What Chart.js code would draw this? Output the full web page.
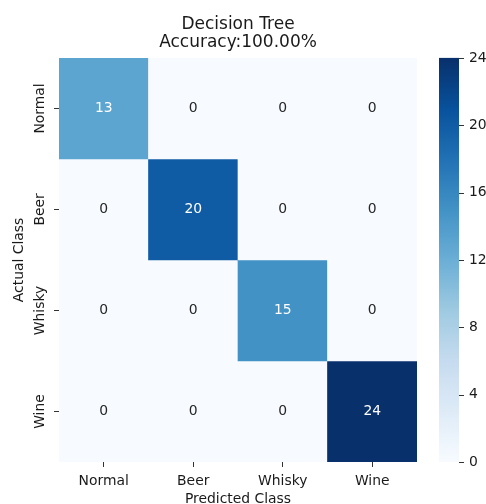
<!DOCTYPE html>
<html>
<head>
<meta charset="utf-8">
<script src="https://cdn.jsdelivr.net/npm/chart.js@4.4.0/dist/chart.umd.min.js"></script>
<style>
  html, body { margin: 0; padding: 0; background: #fff; }
  #wrap { width: 486px; height: 504px; }
</style>
</head>
<body>
<div id="wrap"><canvas id="chartMatrix" width="486" height="504"></canvas></div>
<script>
// confusion matrix, one array per actual class
const predictedLabels = ['Normal', 'Beer', 'Whisky', 'Wine'];
const actualLabels = ['Normal', 'Beer', 'Whisky', 'Wine'];
const rowNormal = [13, 0, 0, 0];
const rowBeer = [0, 20, 0, 0];
const rowWhisky = [0, 0, 15, 0];
const rowWine = [0, 0, 0, 24];
const colorbarTicks = [0, 4, 8, 12, 16, 20, 24];
const chartTitle = ['Decision Tree', 'Accuracy:100.00%'];

const matrix = [rowNormal, rowBeer, rowWhisky, rowWine];
const vmin = 0;
const vmax = 24;

// "Blues" colour map
const bluesStops = [
    [247, 251, 255], [222, 235, 247], [198, 219, 239], [158, 202, 225], [107, 174, 214],
    [66, 146, 198], [33, 113, 181], [8, 81, 156], [8, 48, 107]
];

function bluesRgb(v) {
    let t = (v - vmin) / (vmax - vmin);
    t = Math.max(0, Math.min(1, t));
    const p = t * (bluesStops.length - 1);
    const i = Math.min(Math.floor(p), bluesStops.length - 2);
    const f = p - i;
    return bluesStops[i].map((c, k) => Math.round(c + (bluesStops[i + 1][k] - c) * f));
}

function blues(v) {
    const c = bluesRgb(v);
    return 'rgb(' + c.join(',') + ')';
}

// light cells get dark text, dark cells get white text
function textColor(v) {
    const lin = bluesRgb(v).map(c => {
        c = c / 255;
        return c <= 0.03928 ? c / 12.92 : Math.pow((c + 0.055) / 1.055, 2.4);
    });
    const lum = 0.2126 * lin[0] + 0.7152 * lin[1] + 0.0722 * lin[2];
    return lum > 0.408 ? '#262626' : '#ffffff';
}

Chart.defaults.font.family = 'DejaVu Sans';
Chart.defaults.font.size = 13.9;
Chart.defaults.color = '#1a1a1a';

const cellLabels = {
    id: 'cellLabels',
    afterDatasetsDraw(chart) {
        const ctx = chart.ctx;
        ctx.save();
        ctx.font = '13.9px "DejaVu Sans"';
        ctx.textAlign = 'center';
        ctx.textBaseline = 'middle';
        chart.data.datasets.forEach((ds, r) => {
            chart.getDatasetMeta(r).data.forEach((bar, c) => {
                const v = matrix[r][c];
                const p = bar.getCenterPoint();
                ctx.fillStyle = textColor(v);
                ctx.fillText(String(v), p.x, p.y);
            });
        });
        ctx.restore();
    }
};

const colorbar = {
    id: 'colorbar',
    afterDraw(chart) {
        const scale = chart.scales.cb;
        const ctx = chart.ctx;
        const x0 = scale.left + 22;
        const w = 20;
        const yTop = scale.getPixelForValue(vmax);
        const yBot = scale.getPixelForValue(vmin);
        const grad = ctx.createLinearGradient(0, yBot, 0, yTop);
        bluesStops.forEach((c, i) => {
            grad.addColorStop(i / (bluesStops.length - 1), 'rgb(' + c.join(',') + ')');
        });
        ctx.save();
        ctx.fillStyle = grad;
        ctx.fillRect(x0, yTop, w, yBot - yTop);
        ctx.strokeStyle = '#333';
        ctx.lineWidth = 1;
        scale.ticks.forEach(t => {
            const y = Math.round(scale.getPixelForValue(t.value)) + 0.5;
            ctx.beginPath();
            ctx.moveTo(x0 + w, y);
            ctx.lineTo(x0 + w + 5, y);
            ctx.stroke();
        });
        ctx.restore();
    }
};

const chartMatrix = document.getElementById('chartMatrix');

new Chart(chartMatrix, {
    type: 'bar',
    data: {
        labels: predictedLabels,
        datasets: actualLabels.map((name, r) => ({
            label: name,
            data: matrix[r].map(() => 1),
            backgroundColor: matrix[r].map(blues),
            borderWidth: 0,
            barPercentage: 1,
            categoryPercentage: 1
        }))
    },
    options: {
        responsive: false,
        animation: false,
        events: [],
        layout: { padding: 0 },
        plugins: {
            legend: { display: false },
            tooltip: { enabled: false },
            title: {
                display: true,
                fullSize: false,
                text: chartTitle,
                color: '#1a1a1a',
                font: { size: 17, weight: 'normal', lineHeight: 1.05 },
                padding: { top: 15.9, bottom: 6.3 }
            }
        },
        scales: {
            x: {
                stacked: true,
                border: { display: false },
                grid: { display: true, drawOnChartArea: false, offset: false, tickLength: 5, color: '#333' },
                ticks: { padding: 6, color: '#1a1a1a' },
                title: { display: true, text: 'Predicted Class', color: '#1a1a1a', padding: { top: 0, bottom: -4 } },
                afterFit(axis) {
                    axis.height = 42;
                    axis.paddingLeft = 0;
                    axis.paddingRight = 0;
                }
            },
            y: {
                stacked: true,
                reverse: true,
                min: 0,
                max: actualLabels.length,
                border: { display: false },
                grid: { display: true, drawOnChartArea: false, tickLength: 5, color: '#333' },
                afterBuildTicks(axis) {
                    axis.ticks = actualLabels.map((n, i) => ({ value: i + 0.5 }));
                },
                ticks: {
                    minRotation: 90,
                    maxRotation: 90,
                    crossAlign: 'center',
                    padding: -12,
                    color: '#1a1a1a',
                    callback: (value) => actualLabels[Math.floor(value)]
                },
                title: { display: true, text: 'Actual Class', color: '#1a1a1a', padding: { top: 11, bottom: 0 } },
                afterFit(axis) {
                    axis.width = 59;
                    axis.paddingTop = 0;
                    axis.paddingBottom = 0;
                }
            },
            cb: {
                type: 'linear',
                position: 'right',
                min: vmin,
                max: vmax,
                border: { display: false },
                grid: { display: false, drawTicks: false },
                afterBuildTicks(axis) {
                    axis.ticks = colorbarTicks.map(v => ({ value: v }));
                },
                ticks: { padding: 52, color: '#1a1a1a' },
                afterFit(axis) {
                    axis.width = 69;
                    axis.paddingTop = 0;
                    axis.paddingBottom = 0;
                }
            }
        }
    },
    plugins: [cellLabels, colorbar]
});
</script>
</body>
</html>
